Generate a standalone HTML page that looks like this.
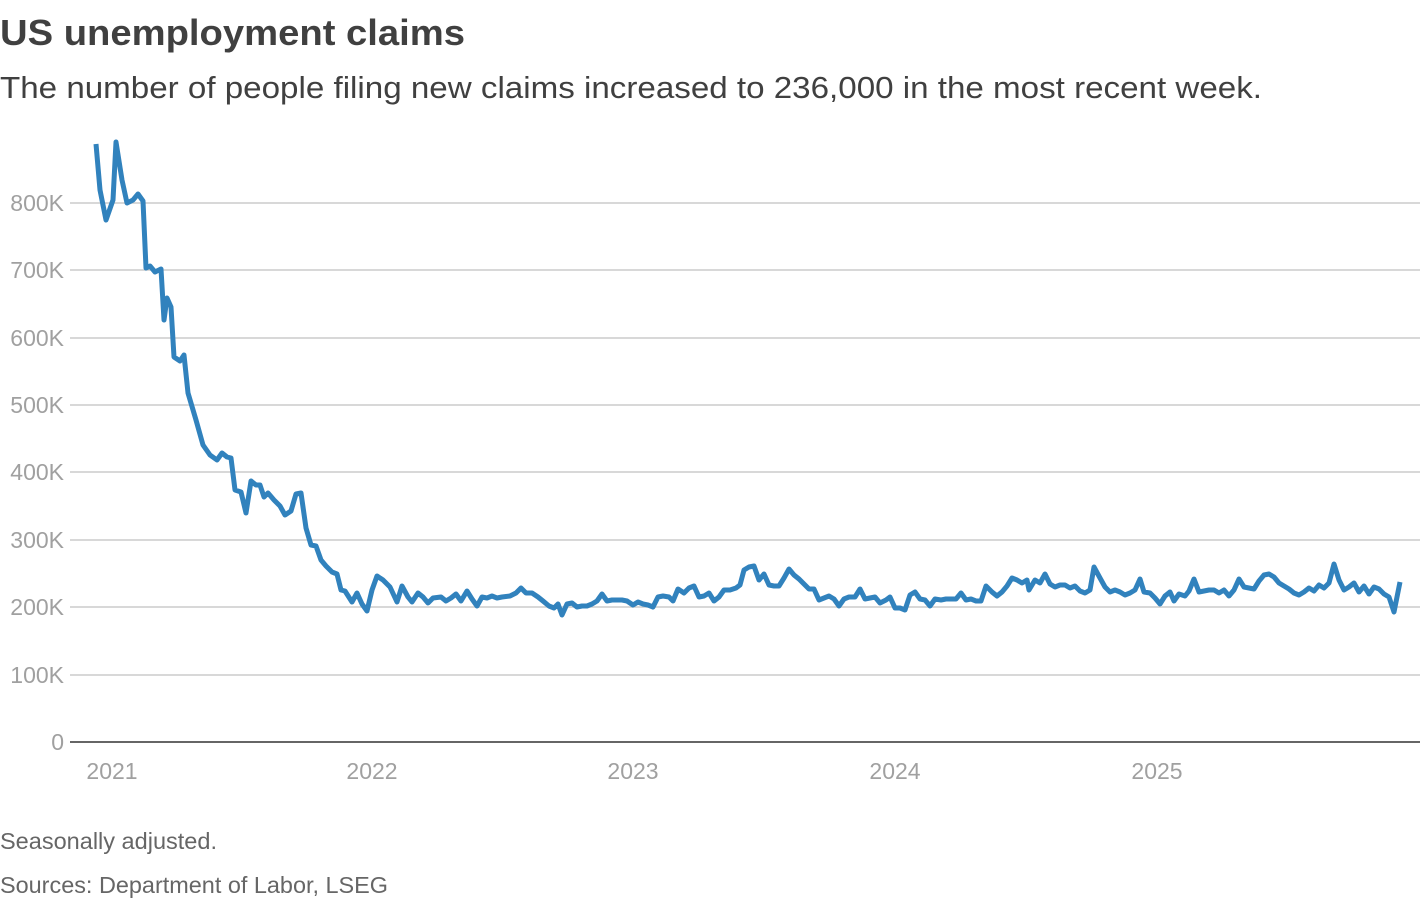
<!DOCTYPE html>
<html><head><meta charset="utf-8"><style>
body{margin:0;background:#fff;width:1420px;height:900px;overflow:hidden;font-family:"Liberation Sans",sans-serif}
</style></head><body>
<svg width="1420" height="900" xmlns="http://www.w3.org/2000/svg" font-family="Liberation Sans, sans-serif">
<text x="0" y="45" font-size="36" font-weight="bold" fill="#404040" textLength="465" lengthAdjust="spacingAndGlyphs">US unemployment claims</text>
<text x="0" y="98" font-size="31" fill="#404040" textLength="1262" lengthAdjust="spacingAndGlyphs">The number of people filing new claims increased to 236,000 in the most recent week.</text>
<g stroke="#cccccc" stroke-width="1.5">
<line x1="70" x2="1420" y1="203" y2="203"/><line x1="70" x2="1420" y1="270" y2="270"/>
<line x1="70" x2="1420" y1="338" y2="338"/><line x1="70" x2="1420" y1="405" y2="405"/>
<line x1="70" x2="1420" y1="472" y2="472"/><line x1="70" x2="1420" y1="540" y2="540"/>
<line x1="70" x2="1420" y1="607" y2="607"/><line x1="70" x2="1420" y1="675" y2="675"/>
</g>
<line x1="70" x2="1420" y1="742" y2="742" stroke="#333" stroke-width="1.5"/>
<g font-size="23" fill="#a0a0a0" text-anchor="end">
<text x="64" y="211">800K</text><text x="64" y="278">700K</text><text x="64" y="346">600K</text>
<text x="64" y="413">500K</text><text x="64" y="480">400K</text><text x="64" y="548">300K</text>
<text x="64" y="615">200K</text><text x="64" y="683">100K</text><text x="64" y="750">0</text>
</g>
<g font-size="23" fill="#a0a0a0" text-anchor="middle">
<text x="112" y="779">2021</text><text x="372" y="779">2022</text><text x="633" y="779">2023</text>
<text x="895" y="779">2024</text><text x="1157" y="779">2025</text>
</g>
<polyline fill="none" stroke="#3182bd" stroke-width="5" stroke-linejoin="round" points="96,144 100,190 106,220 113,200 116,142 122,180 127,203 133,200 138,194 143,201 146,268 150,266 155,272 161,269 164,320 167,298 171,307 174,357 180,361 184,355 188,393 196,420 203,445 210,455 217,460 222,453 227,457 231,458 235,490 241,492 246,513 251,481 256,485 260,485 264,497 268,493 274,500 280,506 285,515 291,511 296,494 301,493 306,528 311,545 316,546 321,560 326,566 332,572 337,574 341,590 345,591 352,602 357,593 362,604 367,611 372,590 377,576 383,580 390,587 397,602 402,586 408,597 412,602 418,593 423,597 428,603 433,598 441,597 446,601 451,598 456,594 461,601 467,591 472,599 477,606 482,597 487,598 492,596 497,598 502,597 510,596 516,593 521,588 526,593 532,593 538,597 543,601 549,606 554,608 558,604 562,615 567,604 572,603 577,607 582,606 587,606 592,604 597,601 602,594 607,601 612,600 617,600 622,600 627,601 633,605 638,602 643,604 648,605 653,607 658,597 663,596 669,597 673,601 678,589 684,593 689,588 694,586 699,597 704,596 709,593 714,601 719,597 724,590 730,590 736,588 740,585 744,570 749,567 754,566 759,580 764,574 769,585 774,586 779,586 784,578 789,569 794,575 799,579 804,584 809,589 814,589 819,600 824,598 829,596 834,599 839,606 844,599 849,597 855,597 860,589 865,599 870,598 875,597 880,603 886,600 890,597 895,608 900,608 905,610 910,595 915,592 920,599 925,600 930,606 935,599 941,600 946,599 951,599 956,599 961,593 966,600 971,599 976,601 981,601 986,586 992,592 997,596 1002,592 1007,586 1012,578 1017,580 1022,583 1027,580 1029,590 1035,580 1040,583 1045,574 1050,584 1055,587 1060,585 1065,585 1070,588 1075,586 1080,591 1085,593 1090,590 1094,567 1100,578 1105,587 1110,592 1115,590 1120,592 1125,595 1130,593 1135,590 1140,579 1144,592 1150,593 1155,598 1160,604 1165,596 1170,592 1174,601 1179,594 1185,596 1189,591 1194,579 1199,592 1204,591 1209,590 1214,590 1219,593 1224,590 1229,596 1234,590 1239,579 1244,587 1249,588 1254,589 1259,581 1264,575 1269,574 1274,577 1279,583 1284,586 1289,589 1294,593 1299,595 1304,592 1309,588 1314,591 1319,585 1324,588 1329,583 1334,564 1339,580 1344,590 1349,587 1354,583 1359,592 1364,586 1369,594 1374,587 1379,589 1384,594 1389,597 1394,612 1400,582"/>
<text x="0" y="849" font-size="23" fill="#666" textLength="217" lengthAdjust="spacingAndGlyphs">Seasonally adjusted.</text>
<text x="0" y="893" font-size="23" fill="#666" textLength="388" lengthAdjust="spacingAndGlyphs">Sources: Department of Labor, LSEG</text>
</svg>
</body></html>
